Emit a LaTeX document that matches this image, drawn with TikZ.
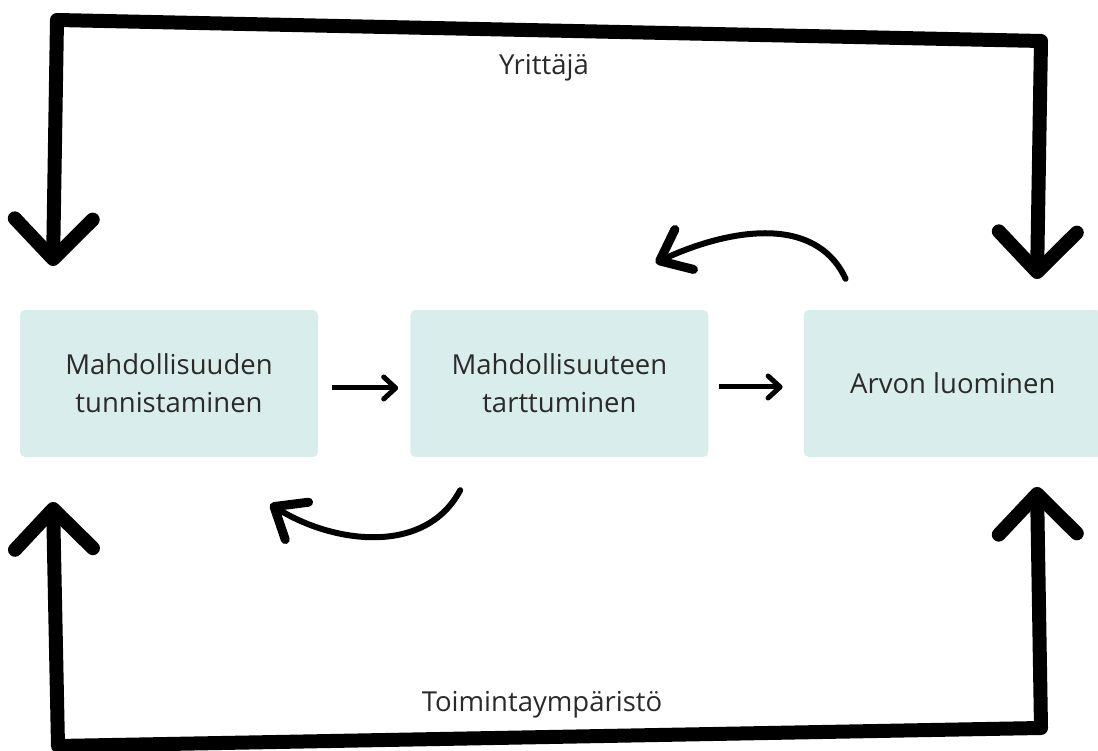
\documentclass[tikz,border=0pt]{standalone}
\usepackage{fontspec}
\setmainfont{Open Sans}
\usetikzlibrary{positioning,arrows.meta,calc}
\definecolor{boxfill}{HTML}{D9EEEC}
\definecolor{textgray}{HTML}{2A2A2A}
\tikzstyle{stage}=[rectangle,rounded corners=5pt,minimum width=298pt,
minimum height=147pt,text centered,align=center,fill=boxfill,text=textgray,
font=\fontsize{27.5}{38}\selectfont]
\tikzstyle{framelabel}=[text=textgray,font=\fontsize{27.5}{38}\selectfont]
\tikzstyle{frame}=[line width=14pt,line cap=round,line join=round,
{Straight Barb[length=40pt,width=78pt,round]}-{Straight Barb[length=40pt,width=78pt,round]}]
\tikzstyle{arrow}=[line width=5pt,-{Straight Barb[length=12pt,width=22pt,round]}]
\tikzstyle{backarrow}=[line width=6pt,line cap=round,
-{Straight Barb[length=27pt,width=44pt,round,line width=9pt]}]

\begin{document}
\begin{tikzpicture}[x=1pt,y=1pt]
    \useasboundingbox (0,0) rectangle (1098,751);

        \node (box1) [stage] at (169,367.5) {Mahdollisuuden\\tunnistaminen};
        \node (box2) [stage,right=92pt of box1] {Mahdollisuuteen\\tarttuminen};
        \node (box3) [stage,right=95pt of box2] {Arvon luominen};

        \node (yrittaja) [framelabel] at (544,683) {Yrittäjä};
        \node (ympari) [framelabel] at (542,46) {Toimintaympäristö};

        % frame corners and tips
        \coordinate (ytip1) at (53,485);
        \coordinate (ycorner1) at (57,731);
        \coordinate (ycorner2) at (1041,710);
        \coordinate (ytip2) at (1037,472);
        \coordinate (ttip1) at (53,249);
        \coordinate (tcorner1) at (58,5);
        \coordinate (tcorner2) at (1041,23);
        \coordinate (ttip2) at (1037,264);

        \draw [frame] (ytip1) -- (ycorner1) -- (ycorner2) -- (ytip2);
        \draw [frame] (ttip1) -- (tcorner1) -- (tcorner2) -- (ttip2);

        \draw [arrow,shorten <=14pt,shorten >=12pt] ([yshift=-4.5pt]box1.east) -- ([yshift=-4.5pt]box2.west);
        \draw [arrow,shorten <=10pt,shorten >=21pt] ([yshift=-3.5pt]box2.east) -- ([yshift=-3.5pt]box3.west);

        \draw [backarrow] ($(box3.north west)+(42,31)$) to[out=115,in=25] ($(box2.north east)+(-53,47)$);
        \draw [backarrow] ($(box2.south west)+(50,-33)$) to[out=242,in=328] ($(box1.south east)+(-48,-47)$);

    \end{tikzpicture}
\end{document}
